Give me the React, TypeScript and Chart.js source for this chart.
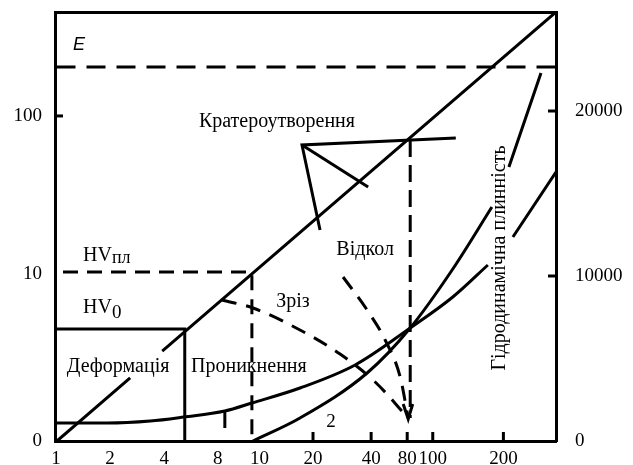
import React, { useEffect, useRef } from "react";
import { Chart, registerables } from "chart.js";

Chart.register(...registerables);

// Horizontal axis: schematic position units (0 = left frame, 100 = right frame)
const xTickPos = [0.2, 11.0, 21.8, 32.5, 40.8, 51.5, 63.1, 70.3, 75.4, 89.5];
const xTickLabels = ["1", "2", "4", "8", "10", "20", "40", "80", "100", "200"];
const xTickMarked = [false, false, false, false, false, true, true, true, true, true];

// Right axis (linear) and left axis (labels placed on the same scale)
const Y_MAX = 26000;
const yRightTicks = [0, 10000, 20000];
const yRightMarked = [false, true, true];
const yLeftTickPos = [0, 10120, 19700];
const yLeftLabels = ["0", "10", "100"];
const yLeftMarked = [false, false, true];

// Straight diagonal (with a gap at the "Деформація" label)
const diagX = [0.4, 15.0, 18.0, 21.4, 100];
const diagY = [0, 3820, null, 5450, 26000];

// E level (dashed)
const eX = [0.3, 100];
const eY = [22667, 22667];

// HVпл level + vertical drop (dashed)
const hvPlX = [1.6, 39.3, 39.3];
const hvPlY = [10242, 10242, 0];

// HV0 box (solid)
const hv0X = [0, 25.9, 25.9];
const hv0Y = [6788, 6788, 0];

// Crater-formation marker
const craterX = [52.9, 49.3, 80.0];
const craterY = [12788, 17939, 18364];
const craterArmX = [49.3, 62.5];
const craterArmY = [17939, 15394];

// Vertical dashed at "80"
const spallVertX = [70.9, 70.9];
const spallVertY = [18242, 1394];

// Shear (Зріз) dashed curve
const shearX = [33.3, 39.5, 48.9, 56.9, 63.9, 70.5];
const shearY = [8545, 8061, 6727, 5273, 3576, 1394];

// Spall (Відкол) dashed curve
const spallX = [57.5, 62.3, 65.9, 68.9, 70.5];
const spallY = [9939, 7939, 6121, 3879, 1394];

// Arrow head where the dashed lines meet
const arrowX = [69.5, 70.5, 71.4];
const arrowY = [2240, 1330, 2240];

// Curve 1 (flatter rising curve)
const curve1X = [0, 10.4, 19.0, 25.7, 33.9, 39.3, 48.9, 59.9, 70.9, 79.4, 86.4, 88.9, 91.4, 100];
const curve1Y = [1091, 1091, 1212, 1455, 1818, 2303, 3212, 4606, 6848, 8727, 10667, null, 12364, 16303];

// Curve 2 (steeper rising curve)
const curve2X = [39.5, 48.9, 62.3, 70.9, 79.4, 87.2, 88.9, 90.6, 97.0];
const curve2Y = [0, 1394, 4121, 6848, 10424, 14182, null, 16606, 22303];

// Small mark on curve 1
const markX = [33.9, 33.9];
const markY = [1879, 788];

const SERIF = "'Liberation Serif', 'Times New Roman', serif";

type Ann = {
  text: string;
  x: number;
  y: number;
  align: CanvasTextAlign;
  font: string;
  sub?: string;
  subFont?: string;
  subDy?: number;
  rotate?: boolean;
};

const annotations: Ann[] = [
  { text: "E", x: 3.6, y: 23697, align: "left", font: "italic 18px 'Liberation Sans', Arial, sans-serif" },
  { text: "Кратероутворення", x: 44.3, y: 19030, align: "center", font: `20px ${SERIF}` },
  { text: "Деформація", x: 12.6, y: 4182, align: "center", font: `20px ${SERIF}` },
  { text: "Проникнення", x: 38.7, y: 4182, align: "center", font: `20px ${SERIF}` },
  { text: "HV", sub: "пл", x: 5.6, y: 10909, align: "left", font: `20px ${SERIF}`, subFont: `18px ${SERIF}`, subDy: 2 },
  { text: "HV", sub: "0", x: 5.6, y: 7758, align: "left", font: `20px ${SERIF}`, subFont: `19px ${SERIF}`, subDy: 5 },
  { text: "Зріз", x: 47.5, y: 8121, align: "center", font: `20px ${SERIF}` },
  { text: "Відкол", x: 61.9, y: 11273, align: "center", font: `20px ${SERIF}` },
  { text: "2", x: 55.1, y: 848, align: "center", font: `19px ${SERIF}` },
  { text: "Гідродинамічна плинність", x: 88.8, y: 11091, align: "center", font: `20px ${SERIF}`, rotate: true },
];

const pts = (xs: number[], ys: (number | null)[]) => xs.map((x, i) => ({ x, y: ys[i] }));

const noPad = (s: any) => {
  s.paddingTop = 0;
  s.paddingBottom = 0;
  s.paddingLeft = 0;
  s.paddingRight = 0;
};

const tickMarksPlugin = {
  id: "tickMarks",
  afterDraw(chart: any) {
    const { ctx, chartArea: a, scales } = chart;
    ctx.save();
    ctx.strokeStyle = "#000";
    ctx.lineWidth = 3;
    const seg = (x1: number, y1: number, x2: number, y2: number) => {
      ctx.beginPath();
      ctx.moveTo(x1, y1);
      ctx.lineTo(x2, y2);
      ctx.stroke();
    };
    xTickPos.forEach((v, i) => {
      if (!xTickMarked[i]) return;
      const p = scales.x.getPixelForValue(v);
      seg(p, a.bottom, p, a.bottom - 9);
    });
    yRightTicks.forEach((v, i) => {
      if (!yRightMarked[i]) return;
      const p = scales.y.getPixelForValue(v);
      seg(a.right, p, a.right - 8, p);
    });
    yLeftTickPos.forEach((v, i) => {
      if (!yLeftMarked[i]) return;
      const p = scales.yL.getPixelForValue(v);
      seg(a.left, p, a.left + 8, p);
    });
    ctx.restore();
  },
};

const labelsPlugin = {
  id: "labels",
  afterDatasetsDraw(chart: any) {
    const { ctx, scales } = chart;
    ctx.save();
    ctx.fillStyle = "#000";
    annotations.forEach((a) => {
      const px = scales.x.getPixelForValue(a.x);
      const py = scales.y.getPixelForValue(a.y);
      ctx.font = a.font;
      if (a.rotate) {
        ctx.save();
        ctx.translate(px, py);
        ctx.rotate(-Math.PI / 2);
        ctx.textAlign = "center";
        ctx.textBaseline = "middle";
        ctx.fillText(a.text, 0, 0);
        ctx.restore();
        return;
      }
      ctx.textAlign = a.align;
      ctx.textBaseline = "alphabetic";
      ctx.fillText(a.text, px, py);
      if (a.sub) {
        const w = ctx.measureText(a.text).width;
        ctx.font = a.subFont || a.font;
        ctx.textAlign = "left";
        ctx.fillText(a.sub, px + w, py + (a.subDy || 0));
      }
    });
    ctx.restore();
  },
};

export default function App() {
  const ref = useRef<HTMLCanvasElement | null>(null);

  useEffect(() => {
    document.body.style.margin = "0";
    document.body.style.overflow = "hidden";
    const canvas = ref.current;
    if (!canvas) return;

    const line = (xs: number[], ys: (number | null)[], dash: number[] = [], curved = false) => ({
      data: pts(xs, ys),
      borderColor: "#000",
      borderWidth: 3,
      borderDash: dash,
      pointRadius: 0,
      fill: false,
      spanGaps: false,
      tension: curved ? 0.4 : 0,
      cubicInterpolationMode: curved ? ("monotone" as const) : ("default" as const),
    });

    const chart = new Chart(canvas, {
      type: "line",
      data: {
        datasets: [
          line(diagX, diagY),
          line(eX, eY, [19, 11]),
          line(hvPlX, hvPlY, [15, 9]),
          line(hv0X, hv0Y),
          line(craterX, craterY),
          line(craterArmX, craterArmY),
          line(spallVertX, spallVertY, [17, 8]),
          line(shearX, shearY, [15, 10], true),
          line(spallX, spallY, [15, 10], true),
          line(arrowX, arrowY),
          line(curve1X, curve1Y, [], true),
          line(curve2X, curve2Y, [], true),
          line(markX, markY),
        ] as any,
      },
      options: {
        responsive: false,
        animation: false,
        layout: { padding: 0 },
        plugins: { legend: { display: false }, tooltip: { enabled: false } },
        scales: {
          x: {
            type: "linear",
            position: "bottom",
            min: 0,
            max: 100,
            afterBuildTicks: (s: any) => {
              s.ticks = xTickPos.map((v) => ({ value: v }));
            },
            afterFit: (s: any) => {
              s.height = 24;
              noPad(s);
            },
            ticks: {
              autoSkip: false,
              maxRotation: 0,
              padding: 7,
              color: "#000",
              font: { family: SERIF, size: 19 },
              callback: (_v: any, i: number) => xTickLabels[i],
            },
            grid: { display: false, drawTicks: false },
            border: { display: true, color: "#000", width: 3 },
          },
          xTop: {
            type: "linear",
            position: "top",
            min: 0,
            max: 100,
            afterFit: (s: any) => {
              s.height = 12;
              noPad(s);
            },
            ticks: { display: false },
            grid: { display: false, drawTicks: false },
            border: { display: true, color: "#000", width: 3 },
          },
          y: {
            type: "linear",
            position: "right",
            min: 0,
            max: Y_MAX,
            afterBuildTicks: (s: any) => {
              s.ticks = yRightTicks.map((v) => ({ value: v }));
            },
            afterFit: (s: any) => {
              s.width = 77;
              noPad(s);
            },
            ticks: {
              padding: 19,
              color: "#000",
              font: { family: SERIF, size: 19 },
              callback: (v: any) => String(v),
            },
            grid: { display: false, drawTicks: false },
            border: { display: true, color: "#000", width: 3 },
          },
          yL: {
            type: "linear",
            position: "left",
            min: 0,
            max: Y_MAX,
            afterBuildTicks: (s: any) => {
              s.ticks = yLeftTickPos.map((v) => ({ value: v }));
            },
            afterFit: (s: any) => {
              s.width = 55;
              noPad(s);
            },
            ticks: {
              padding: 13,
              color: "#000",
              font: { family: SERIF, size: 19 },
              callback: (_v: any, i: number) => yLeftLabels[i],
            },
            grid: { display: false, drawTicks: false },
            border: { display: true, color: "#000", width: 3 },
          },
        },
      } as any,
      plugins: [tickMarksPlugin, labelsPlugin],
    });

    return () => chart.destroy();
  }, []);

  return (
    <div style={{ width: 633, height: 465, background: "#fff" }}>
      <canvas ref={ref} width={633} height={465} style={{ display: "block" }} />
    </div>
  );
}
